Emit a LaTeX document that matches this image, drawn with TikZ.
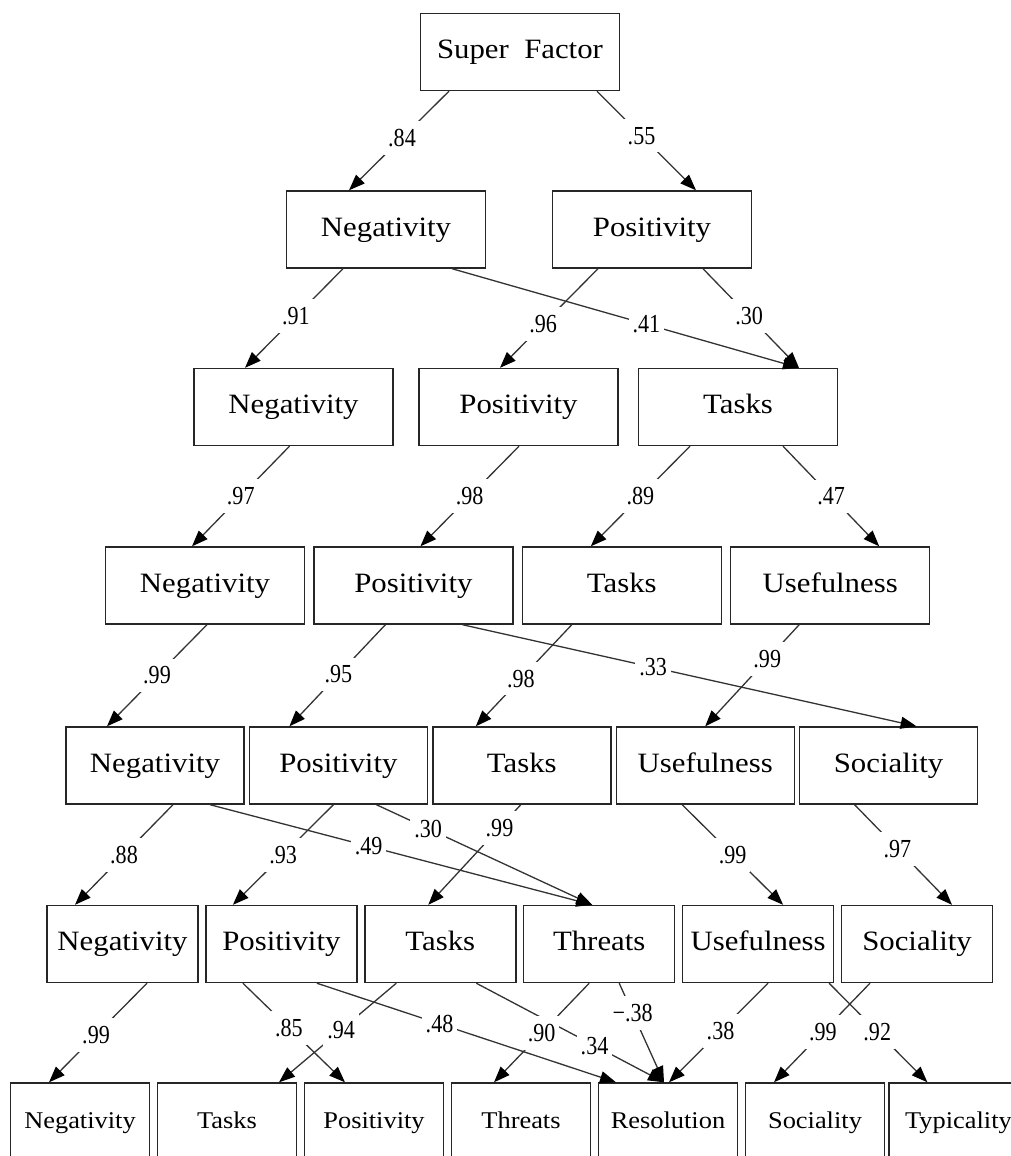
\documentclass[tikz,border=0pt]{standalone}
\usepackage{fontspec}
\setmainfont{Liberation Serif}[FakeStretch=1.1]
\newfontfamily\coeffont{Liberation Serif}[FakeStretch=0.85]
\usetikzlibrary{positioning}
\usetikzlibrary{arrows.meta}

\tikzset{
  factor/.style={draw=black!85, line width=1.4pt, fill=white, inner sep=0pt,
    minimum width=199pt, minimum height=77pt, text height=19pt, text depth=6pt,
    font=\fontsize{28}{32}\selectfont},
  link/.style={draw=black!80, line width=1.3pt, -{Triangle[length=16pt,width=12pt,color=black]}},
  coef/.style={fill=white, inner xsep=4pt, inner ysep=8pt,
    font=\coeffont\fontsize{26}{28}\selectfont}
}

\begin{document}
\begin{tikzpicture}[x=1pt,y=-1pt]
  \useasboundingbox (0,0) rectangle (1010,1156);

  % level 1
  \node[factor] (sf) at (520,52) {Super\ \ Factor};
  % level 2
  \node[factor] (neg2) at (386,229.5) {Negativity};
  \node[factor] (pos2) at (652,229.5) {Positivity};
  % level 3
  \node[factor] (neg3) at (293.5,407) {Negativity};
  \node[factor] (pos3) at (518.5,407) {Positivity};
  \node[factor] (tsk3) at (738,407) {Tasks};
  % level 4
  \node[factor] (neg4) at (205,585.5) {Negativity};
  \node[factor, right=8pt of neg4] (pos4) {Positivity};
  \node[factor, right=8pt of pos4] (tsk4) {Tasks};
  \node[factor, right=8pt of tsk4] (use4) {Usefulness};
  % level 5
  \begin{scope}[factor/.append style={minimum width=178pt}]
    \node[factor] (neg5) at (155,765.5) {Negativity};
    \node[factor, right=4pt of neg5] (pos5) {Positivity};
    \node[factor, right=4pt of pos5] (tsk5) {Tasks};
    \node[factor, right=4pt of tsk5] (use5) {Usefulness};
    \node[factor, right=4pt of use5] (soc5) {Sociality};
  \end{scope}
  % level 6
  \begin{scope}[factor/.append style={minimum width=151pt}]
    \node[factor] (neg6) at (122.5,944) {Negativity};
    \node[factor, right=6.5pt of neg6] (pos6) {Positivity};
    \node[factor, right=6.5pt of pos6] (tsk6) {Tasks};
    \node[factor, right=6.5pt of tsk6] (thr6) {Threats};
    \node[factor, right=6.5pt of thr6] (use6) {Usefulness};
    \node[factor, right=6.5pt of use6] (soc6) {Sociality};
  \end{scope}
  % level 7
  \begin{scope}[factor/.append style={minimum width=139pt, font=\fontsize{24}{28}\selectfont}]
    \node[factor] (neg7) at (80,1121.5) {Negativity};
    \node[factor, right=6.6pt of neg7] (tsk7) {Tasks};
    \node[factor, right=6.6pt of tsk7] (pos7) {Positivity};
    \node[factor, right=6.6pt of pos7] (thr7) {Threats};
    \node[factor, right=6.6pt of thr7] (res7) {Resolution};
    \node[factor, right=6.6pt of res7] (soc7) {Sociality};
    \node[factor, right=3pt of soc7] (typ7) {Typicality};
  \end{scope}

  % 1 -> 2
  \draw[link] ([xshift=-71pt]sf.south) -- node[coef,pos=.47] {.84} ([xshift=-37pt]neg2.north);
  \draw[link] ([xshift=77pt]sf.south) -- node[coef,pos=.45] {.55} ([xshift=44pt]pos2.north);
  % 2 -> 3
  \draw[link] ([xshift=-43pt]neg2.south) -- node[coef,pos=.48] {.91} ([xshift=-48.5pt]neg3.north);
  \draw[link] ([xshift=66pt]neg2.south) -- node[coef,pos=.56] {.41} ([xshift=61pt]tsk3.north);
  \draw[link] ([xshift=-54pt]pos2.south) -- node[coef,pos=.56] {.96} ([xshift=-18.5pt]pos3.north);
  \draw[link] ([xshift=51pt]pos2.south) -- node[coef,pos=.48] {.30} ([xshift=61pt]tsk3.north);
  % 3 -> 4
  \draw[link] ([xshift=-4pt]neg3.south) -- node[coef,pos=.5] {.97} ([xshift=-13pt]neg4.north);
  \draw[link] ([xshift=.5pt]pos3.south) -- node[coef,pos=.5] {.98} ([xshift=7pt]pos4.north);
  \draw[link] ([xshift=-48pt]tsk3.south) -- node[coef,pos=.5] {.89} ([xshift=-31pt]tsk4.north);
  \draw[link] ([xshift=45pt]tsk3.south) -- node[coef,pos=.5] {.47} ([xshift=49pt]use4.north);
  % 4 -> 5
  \draw[link] ([xshift=2pt]neg4.south) -- node[coef,pos=.5] {.99} ([xshift=-48pt]neg5.north);
  \draw[link] ([xshift=-28pt]pos4.south) -- node[coef,pos=.49] {.95} ([xshift=-49pt]pos5.north);
  \draw[link] ([xshift=-50pt]tsk4.south) -- node[coef,pos=.53] {.98} ([xshift=-46pt]tsk5.north);
  \draw[link] ([xshift=49pt]pos4.south) -- node[coef,pos=.42] {.33} ([xshift=28pt]soc5.north);
  \draw[link] ([xshift=-31pt]use4.south) -- node[coef,pos=.34] {.99} (use5.north);
  % 5 -> 6
  \draw[link] ([xshift=18pt]neg5.south) -- node[coef,pos=.5] {.88} ([xshift=-47.5pt]neg6.north);
  \draw[link] ([xshift=55pt]neg5.south) -- node[coef,pos=.415] {.49} ([xshift=-7pt]thr6.north);
  \draw[link] ([xshift=-5pt]pos5.south) -- node[coef,pos=.5] {.93} ([xshift=-48.5pt]pos6.north);
  \draw[link] ([xshift=38pt]pos5.south) -- node[coef,pos=.24] {.30} ([xshift=-7pt]thr6.north);
  \draw[link] ([xshift=-1pt]tsk5.south) -- node[coef,pos=.23] {.99} ([xshift=-12pt]tsk6.north);
  \draw[link] ([xshift=-23pt]use5.south) -- node[coef,pos=.5] {.99} ([xshift=25pt]use6.north);
  \draw[link] ([xshift=-34pt]soc5.south) -- node[coef,pos=.44] {.97} ([xshift=35pt]soc6.north);
  % 6 -> 7
  \draw[link] ([xshift=24.5pt]neg6.south) -- node[coef,pos=.52] {.99} ([xshift=-31pt]neg7.north);
  \draw[link] ([xshift=-38.5pt]pos6.south) -- node[coef,pos=.45] {.85} ([xshift=-29pt]pos7.north);
  \draw[link] ([xshift=-44pt]tsk6.south) -- node[coef,pos=.47] {.94} ([xshift=52pt]tsk7.north);
  \draw[link] ([xshift=35.5pt]pos6.south) -- node[coef,pos=.41] {.48} ([xshift=-52pt]res7.north);
  \draw[link] ([xshift=36pt]tsk6.south) -- node[coef,pos=.63] {.34} ([xshift=-4pt]res7.north);
  \draw[link] ([xshift=20pt]thr6.south) -- node[coef,pos=.3] {−.38} ([xshift=-4pt]res7.north);
  \draw[link] ([xshift=10pt]use6.south) -- node[coef,pos=.48] {.38} ([xshift=1pt]res7.north);
  \draw[link] ([xshift=-10pt]thr6.south) -- node[coef,pos=.5] {.90} ([xshift=-27pt]thr7.north);
  \draw[link] ([xshift=-47pt]soc6.south) -- node[coef,pos=.49] {.99} ([xshift=-41pt]soc7.north);
  \draw[link] ([xshift=71pt]use6.south) -- node[coef,pos=.49] {.92} ([xshift=-31pt]typ7.north);
\end{tikzpicture}
\end{document}
